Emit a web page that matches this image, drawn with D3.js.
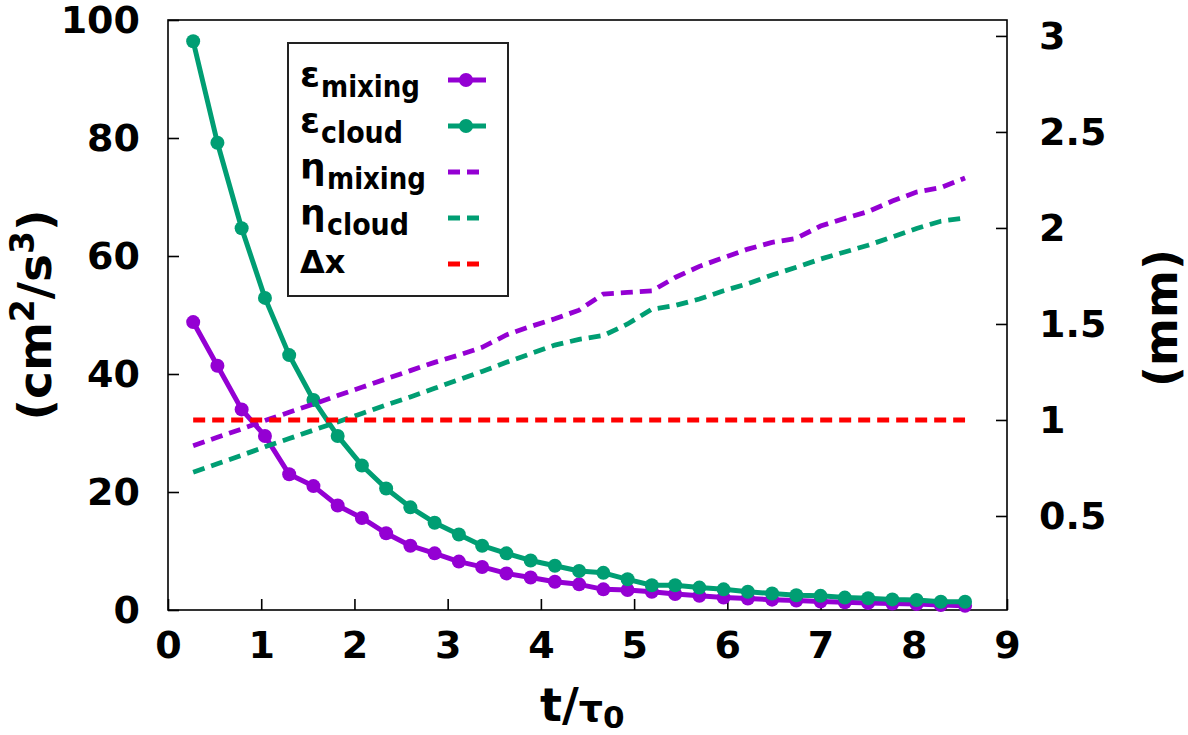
<!doctype html>
<html lang="en">
<head>
  <meta charset="utf-8">
  <script src="https://d3js.org/d3.v7.min.js"></script>
  <style>
    body { margin: 0; background: white; }
    text { font-family: "DejaVu Sans", Verdana, sans-serif; font-weight: bold; fill: black; }
  </style>
</head>
<body>
  <svg id="plot" width="1188" height="735"></svg>
  <script>
    // values
    var tValues = [0.27, 0.53, 0.79, 1.04, 1.30, 1.56, 1.82, 2.08, 2.34, 2.60, 2.86,
                   3.12, 3.37, 3.63, 3.89, 4.15, 4.41, 4.67, 4.93, 5.19, 5.44, 5.70,
                   5.96, 6.22, 6.48, 6.74, 7.00, 7.26, 7.51, 7.77, 8.03, 8.29, 8.55];
    var epsMixing = [48.8, 41.4, 34.0, 29.5, 23.0, 21.0, 17.7, 15.6, 13.0, 10.9, 9.6,
                     8.2, 7.3, 6.2, 5.5, 4.8, 4.35, 3.5, 3.4, 3.1, 2.7, 2.4,
                     2.1, 1.95, 1.75, 1.6, 1.45, 1.3, 1.2, 1.1, 1.0, 0.85, 0.7];
    var epsCloud = [96.4, 79.2, 64.7, 52.9, 43.2, 35.6, 29.5, 24.5, 20.6, 17.4, 14.8,
                    12.8, 10.9, 9.6, 8.4, 7.5, 6.6, 6.3, 5.2, 4.2, 4.2, 3.8,
                    3.5, 3.1, 2.8, 2.5, 2.4, 2.1, 2.0, 1.8, 1.7, 1.4, 1.4];
    var etaMixing = [0.866, 0.91, 0.953, 0.997, 1.04, 1.083, 1.127, 1.17, 1.214, 1.257, 1.30,
                     1.338, 1.378, 1.443, 1.487, 1.527, 1.572, 1.656, 1.664, 1.672, 1.742, 1.80,
                     1.845, 1.89, 1.925, 1.946, 2.01, 2.05, 2.085, 2.14, 2.187, 2.21, 2.26];
    var etaCloud = [0.728, 0.772, 0.816, 0.86, 0.903, 0.947, 0.99, 1.034, 1.078, 1.12, 1.165,
                    1.21, 1.253, 1.30, 1.345, 1.39, 1.42, 1.44, 1.50, 1.577, 1.596, 1.63,
                    1.673, 1.71, 1.755, 1.795, 1.838, 1.875, 1.91, 1.953, 1.997, 2.035, 2.052];
    var deltaX = 1.0;

    var xTicks = [0, 1, 2, 3, 4, 5, 6, 7, 8, 9];
    var yTicks = [0, 20, 40, 60, 80, 100];
    var y2Ticks = [0.5, 1, 1.5, 2, 2.5, 3];

    var purple = "#9400d3", green = "#009e73", red = "#ff0000";

    var pLeft = 168, pRight = 1007, pTop = 20, pBottom = 610;
    var svg = d3.select("#plot");

    var x = d3.scaleLinear().domain([0, 9]).range([pLeft, pRight]);
    var y = d3.scaleLinear().domain([0, 100]).range([pBottom, pTop]);
    var y2 = d3.scaleLinear().domain([0.0104, 3.083]).range([pBottom, pTop]);

    // frame
    svg.append("rect")
      .attr("x", pLeft).attr("y", pTop)
      .attr("width", pRight - pLeft).attr("height", pBottom - pTop)
      .attr("fill", "none").attr("stroke", "black").attr("stroke-width", 1.6);

    // axes, ticks pointing inward
    var xAxis = svg.append("g")
      .attr("transform", "translate(0," + pBottom + ")")
      .call(d3.axisBottom(x).tickValues(xTicks).tickSize(-11).tickPadding(19).tickFormat(d3.format("d")));
    var yAxis = svg.append("g")
      .attr("transform", "translate(" + pLeft + ",0)")
      .call(d3.axisLeft(y).tickValues(yTicks).tickSize(-11).tickPadding(28).tickFormat(d3.format("d")));
    var y2Axis = svg.append("g")
      .attr("transform", "translate(" + pRight + ",0)")
      .call(d3.axisRight(y2).tickValues(y2Ticks).tickSize(-11).tickPadding(32).tickFormat(d3.format("")));

    [xAxis, yAxis, y2Axis].forEach(function (g) {
      g.select(".domain").remove();
      g.selectAll(".tick line").attr("stroke", "black").attr("stroke-width", 1.6);
      g.selectAll(".tick text").style("font-size", "38px").attr("fill", "black");
    });
    xAxis.selectAll(".tick text").attr("dy", "0.75em");
    y2Axis.selectAll(".tick text").attr("text-anchor", "start");

    // axis titles
    var yTitle = svg.append("text")
      .attr("transform", "translate(51,315) rotate(-90)")
      .attr("text-anchor", "middle")
      .style("font-size", "47px");
    yTitle.append("tspan").text("(cm");
    yTitle.append("tspan").attr("dy", -17).style("font-size", "33px").text("2");
    yTitle.append("tspan").attr("dy", 17).text("/s");
    yTitle.append("tspan").attr("dy", -17).style("font-size", "33px").text("3");
    yTitle.append("tspan").attr("dy", 17).text(")");

    svg.append("text")
      .attr("transform", "translate(1177,318) rotate(-90)")
      .attr("text-anchor", "middle")
      .style("font-size", "46px")
      .text("(mm)");

    var xTitle = svg.append("text")
      .attr("x", 540).attr("y", 721)
      .style("font-size", "46px");
    xTitle.append("tspan").text("t/");
    xTitle.append("tspan").style("font-size", "38px").text("τ");
    xTitle.append("tspan").attr("dy", 7).style("font-size", "31px").text("0");

    // series
    function pts(vals) { return vals.map(function (v, i) { return [tValues[i], v]; }); }

    function solid(vals, color) {
      var line = d3.line().x(function (d) { return x(d[0]); }).y(function (d) { return y(d[1]); });
      svg.append("path").datum(pts(vals))
        .attr("d", line).attr("fill", "none")
        .attr("stroke", color).attr("stroke-width", 5).attr("stroke-linejoin", "round");
      svg.append("g").selectAll("circle")
        .data(pts(vals)).enter().append("circle")
        .attr("cx", function (d) { return x(d[0]); })
        .attr("cy", function (d) { return y(d[1]); })
        .attr("r", 7).attr("fill", color);
    }

    function dashed(vals, color) {
      var line = d3.line().x(function (d) { return x(d[0]); }).y(function (d) { return y2(d[1]); });
      svg.append("path").datum(pts(vals))
        .attr("d", line).attr("fill", "none")
        .attr("stroke", color).attr("stroke-width", 4.8)
        .attr("stroke-dasharray", "12,7");
    }

    solid(epsMixing, purple);
    solid(epsCloud, green);
    dashed(etaMixing, purple);
    dashed(etaCloud, green);
    dashed(tValues.map(function () { return deltaX; }), red);

    // legend
    svg.append("rect")
      .attr("x", 288).attr("y", 43).attr("width", 220).attr("height", 253)
      .attr("fill", "white").attr("stroke", "#222").attr("stroke-width", 2);

    var legendRows = [
      { sym: "ε", sub: "mixing", subLen: 99, color: purple, kind: "point" },
      { sym: "ε", sub: "cloud", subLen: 82, color: green, kind: "point" },
      { sym: "η", sub: "mixing", subLen: 99, color: purple, kind: "dash" },
      { sym: "η", sub: "cloud", subLen: 82, color: green, kind: "dash" },
      { sym: "Δx", sub: "", subLen: 0, color: red, kind: "dash" }
    ];

    legendRows.forEach(function (r, i) {
      var ly = 80 + i * 46;
      svg.append("text").attr("x", 300).attr("y", ly + (r.sub ? 7 : 9))
        .style("font-size", r.sub ? "36px" : "32px").text(r.sym);
      if (r.sub) {
        svg.append("text").attr("x", r.sym == "ε" ? 321 : 327).attr("y", ly + 17)
          .attr("textLength", r.subLen).attr("lengthAdjust", "spacingAndGlyphs")
          .style("font-size", "30px").text(r.sub);
      }
      var sample = svg.append("line")
        .attr("x1", 448).attr("x2", 486).attr("y1", ly).attr("y2", ly)
        .attr("stroke", r.color);
      if (r.kind == "point") {
        sample.attr("stroke-width", 5);
        svg.append("circle").attr("cx", 466).attr("cy", ly).attr("r", 7).attr("fill", r.color);
      } else {
        sample.attr("stroke-width", 4.8).attr("stroke-dasharray", "12,7");
      }
    });
  </script>
</body>
</html>
